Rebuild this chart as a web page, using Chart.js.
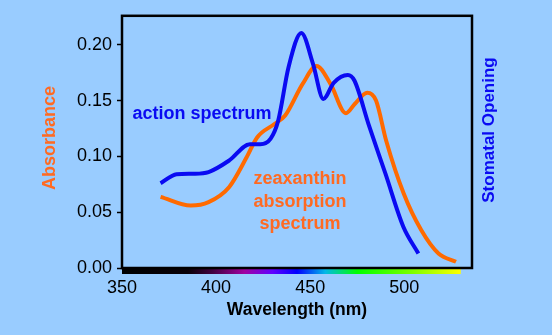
<!DOCTYPE html>
<html lang="en">
<head>
    <meta charset="UTF-8">
    <title>Action spectrum vs zeaxanthin absorption</title>
    <script src="https://cdn.jsdelivr.net/npm/chart.js"></script>
    <style>
        html, body {
            margin: 0;
            padding: 0;
            background: #99ccff;
        }
        #wrap {
            width: 552px;
            height: 335px;
        }
    </style>
</head>
<body>
    <div id="wrap"><canvas id="spectrumChart"></canvas></div>

    <script>
        // wavelengths (nm) and readings for each curve
        const actionNm = [370.5, 379, 388, 396, 407, 418, 423.5, 429, 433, 438.5, 445.3, 451.5, 457, 462.5, 470, 473.5, 481, 490, 499.5, 507.5];
        const actionVal = [0.076, 0.084, 0.0845, 0.086, 0.0964, 0.111, 0.111, 0.116, 0.132, 0.180, 0.2105, 0.183, 0.1515, 0.166, 0.173, 0.168, 0.129, 0.0845, 0.037, 0.013];

        const zeaxNm = [370.5, 386.5, 396, 407, 416.3, 421.8, 431, 436.7, 446, 453.4, 460.8, 469, 473.7, 480.3, 485, 490.4, 499.7, 509, 518.2, 527.5];
        const zeaxVal = [0.0637, 0.056, 0.059, 0.0726, 0.0994, 0.117, 0.129, 0.1366, 0.165, 0.181, 0.165, 0.1387, 0.147, 0.157, 0.150, 0.114, 0.0667, 0.034, 0.013, 0.0056];

        const xTicks = [350, 400, 450, 500];
        const yTicks = [0, 0.05, 0.10, 0.15, 0.20];

        // visible spectrum strip under the x axis
        const stripStops = [
            [350, '#000000'], [385, '#080008'], [398, '#400040'], [415, '#a000a0'],
            [430, '#6000ff'], [443, '#0000ff'], [458, '#00b8e8'], [475, '#00ff00'],
            [505, '#80ff00'], [530, '#ffff00']
        ];

        const BLUE = '#0a0af2';
        const ORANGE = '#ff6a00';
        const ORANGE_TEXT = '#ff6a22';
        const FONT = "'Liberation Sans', Arial, sans-serif";

        const toPoints = (xs, ys) => xs.map((x, i) => ({ x: x, y: ys[i] }));

        const decorations = {
            id: 'decorations',
            beforeDatasetsDraw(chart) {
                const { ctx, chartArea, scales: { x } } = chart;
                // colour strip
                const first = stripStops[0][0];
                const last = stripStops[stripStops.length - 1][0];
                const x0 = x.getPixelForValue(first);
                const x1 = x.getPixelForValue(last);
                const grad = ctx.createLinearGradient(x0, 0, x1, 0);
                stripStops.forEach(([nm, c]) => grad.addColorStop((nm - first) / (last - first), c));
                ctx.save();
                ctx.fillStyle = grad;
                ctx.fillRect(x0, chartArea.bottom, x1 - x0, 6);
                ctx.restore();
            },
            afterDatasetsDraw(chart) {
                const { ctx, chartArea } = chart;
                ctx.save();
                // frame
                ctx.strokeStyle = '#000';
                ctx.lineWidth = 2.5;
                ctx.strokeRect(chartArea.left, chartArea.top, chartArea.right - chartArea.left, chartArea.bottom - chartArea.top);

                ctx.textAlign = 'center';
                ctx.textBaseline = 'middle';
                ctx.font = 'bold 18px ' + FONT;

                ctx.fillStyle = BLUE;
                ctx.fillText('action spectrum', 202, 114);

                ctx.fillStyle = ORANGE_TEXT;
                ctx.fillText('zeaxanthin', 300, 179);
                ctx.fillText('absorption', 300, 202);
                ctx.fillText('spectrum', 300, 224);

                // axis titles
                ctx.save();
                ctx.translate(50, 138);
                ctx.rotate(-Math.PI / 2);
                ctx.fillStyle = ORANGE_TEXT;
                ctx.font = 'bold 18px ' + FONT;
                ctx.fillText('Absorbance', 0, 0);
                ctx.restore();

                ctx.save();
                ctx.translate(489, 130);
                ctx.rotate(-Math.PI / 2);
                ctx.fillStyle = BLUE;
                ctx.font = 'bold 17px ' + FONT;
                ctx.fillText('Stomatal Opening', 0, 0);
                ctx.restore();

                ctx.fillStyle = '#000';
                ctx.font = 'bold 17.5px ' + FONT;
                ctx.fillText('Wavelength (nm)', 297, 310);
                ctx.restore();
            }
        };

        new Chart(document.getElementById('spectrumChart'), {
            type: 'line',
            data: {
                datasets: [
                    {
                        label: 'action spectrum',
                        data: toPoints(actionNm, actionVal),
                        borderColor: BLUE,
                        borderWidth: 4,
                        pointRadius: 0,
                        cubicInterpolationMode: 'monotone',
                        fill: false
                    },
                    {
                        label: 'zeaxanthin absorption spectrum',
                        data: toPoints(zeaxNm, zeaxVal),
                        borderColor: ORANGE,
                        borderWidth: 4,
                        pointRadius: 0,
                        cubicInterpolationMode: 'monotone',
                        fill: false
                    }
                ]
            },
            options: {
                responsive: true,
                maintainAspectRatio: false,
                animation: false,
                layout: { padding: { top: 15, right: 80, left: 0, bottom: 0 } },
                plugins: {
                    legend: { display: false },
                    tooltip: { enabled: false }
                },
                scales: {
                    x: {
                        type: 'linear',
                        min: 350,
                        max: 536,
                        afterBuildTicks: (s) => { s.ticks = xTicks.map(v => ({ value: v })); },
                        afterFit: (s) => { s.height = 67; },
                        grid: { display: false, drawTicks: false },
                        border: { display: false },
                        ticks: {
                            color: '#000',
                            padding: 9,
                            font: { family: FONT, size: 18 }
                        }
                    },
                    y: {
                        min: 0,
                        max: 0.226,
                        afterBuildTicks: (s) => { s.ticks = yTicks.map(v => ({ value: v })); },
                        afterFit: (s) => { s.width = 122; },
                        grid: { drawOnChartArea: false, drawTicks: true, tickLength: 5, tickColor: '#000', tickWidth: 1.5 },
                        border: { display: false },
                        ticks: {
                            color: '#000',
                            padding: 5,
                            font: { family: FONT, size: 18 },
                            callback: (v) => v.toFixed(2)
                        }
                    }
                }
            },
            plugins: [decorations]
        });
    </script>
</body>
</html>
